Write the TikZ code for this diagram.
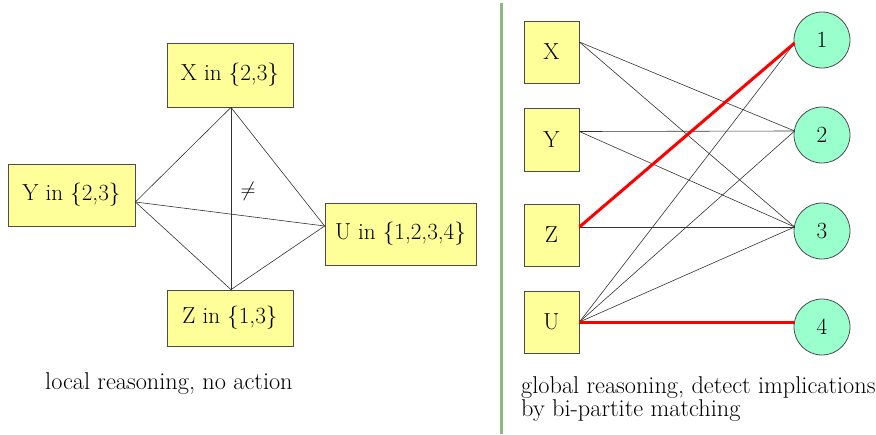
\documentclass[tikz,border=0pt]{standalone}
\definecolor{yellowbox}{RGB}{255,255,153}
\definecolor{greencirc}{RGB}{153,255,204}
\definecolor{sepgreen}{RGB}{140,185,125}
\tikzset{
  box/.style={draw=black!70,fill=yellowbox,line width=0.8pt,inner sep=0pt,font=\fontsize{23.2}{24}\selectfont},
  val/.style={draw=black!70,fill=greencirc,circle,line width=0.8pt,minimum size=56pt,inner sep=0pt,font=\fontsize{23.2}{24}\selectfont},
  link/.style={draw=black!80,line width=0.6pt},
  match/.style={draw=red,line width=3pt},
  captext/.style={font=\fontsize{24.3}{23.5}\selectfont,inner sep=0pt,anchor=west,align=left}}
\begin{document}
\begin{tikzpicture}[x=1pt,y=-1pt]
\useasboundingbox (0,0) rectangle (876,434);
% left part
\node[box,minimum width=126pt,minimum height=64pt] (X) at (230,75) {X in \{2,3\}};
\node[box,minimum width=127pt,minimum height=62pt] (Y) at (71.5,195) {Y in \{2,3\}};
\node[box,minimum width=151pt,minimum height=62pt] (U) at (400.5,234) {U in \{1,2,3,4\}};
\node[box,minimum width=126pt,minimum height=56pt] (Z) at (230,318) {Z in \{1,3\}};
\coordinate (xs) at ([xshift=1pt]X.south);
\coordinate (zn) at ([xshift=1pt]Z.north);
\coordinate (ye) at ([yshift=-7pt]Y.east);
\coordinate (uw) at ([yshift=8pt]U.west);
\draw[link] (xs) -- (zn);
\draw[link] (ye) -- (xs);
\draw[link] (ye) -- (zn);
\draw[link] (ye) -- (uw);
\draw[link] (xs) -- (uw);
\draw[link] (zn) -- (uw);
\node[font=\fontsize{20}{20}\selectfont,inner sep=0pt] (neq) at (248,191) {$\neq$};
\node[captext] (lcap) at (45,384) {local reasoning, no action};
% separator
\draw[sepgreen,line width=3pt] (501,3) coordinate (s1) -- (501,434) coordinate (s2);
% right part
\node[box,minimum width=55pt,minimum height=62pt] (rX) at (551.5,52) {X};
\node[box,minimum width=55pt,minimum height=63pt] (rY) at (551.5,139.5) {Y};
\node[box,minimum width=55pt,minimum height=62pt] (rZ) at (551.5,235) {Z};
\node[box,minimum width=55pt,minimum height=62pt] (rU) at (551.5,322) {U};
\node[val] (v1) at (822,40) {1};
\node[val] (v2) at (822,135) {2};
\node[val] (v3) at (822,231) {3};
\node[val] (v4) at (822,327) {4};
\coordinate (px) at ([yshift=10pt]rX.east);
\coordinate (py) at ([yshift=8pt]rY.east);
\coordinate (pz) at ([yshift=8pt]rZ.east);
\coordinate (pu) at (rU.east);
\coordinate (c1) at ([yshift=-3pt,xshift=1pt]v1.west);
\coordinate (c2) at ([yshift=4pt,xshift=1pt]v2.west);
\coordinate (c3) at ([yshift=4pt,xshift=1pt]v3.west);
\coordinate (c4) at ([yshift=5pt,xshift=1pt]v4.west);
\draw[link] (px) -- (c2);
\draw[link] (px) -- (c3);
\draw[link] (py) -- (c2);
\draw[link] (py) -- (c3);
\draw[link] (pz) -- (c3);
\draw[link] (pu) -- (c1);
\draw[link] (pu) -- (c2);
\draw[link] (pu) -- (c3);
\draw[match] (pz) -- (c1);
\draw[match] (pu) -- (c4);
\node[captext] (rcap) at (521,399) {global reasoning, detect implications\\by bi-partite matching};
\end{tikzpicture}
\end{document}
